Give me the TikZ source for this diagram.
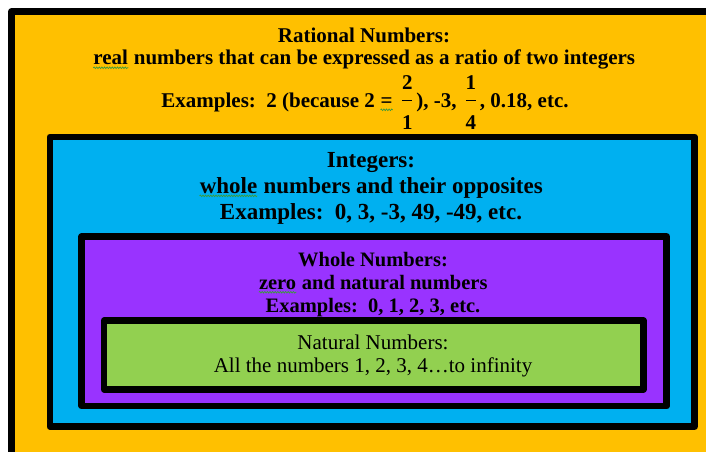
\documentclass[tikz,border=0pt]{standalone}
\usepackage{fontspec}
\setmainfont{Liberation Serif}
\usetikzlibrary{positioning,decorations.pathmorphing}
\definecolor{ratyellow}{HTML}{FFC000}
\definecolor{intblue}{HTML}{00B0F0}
\definecolor{wholepurple}{HTML}{9933FF}
\definecolor{natgreen}{HTML}{92D050}
\definecolor{squiggreen}{HTML}{3C9A3C}
\newcommand\squig[1]{\tikz[baseline=(sq.base)]{\node[inner sep=0pt,font=] (sq) {#1};
    \draw[squiggreen,line width=0.7pt,decorate,decoration={snake,segment length=2.6pt,amplitude=0.8pt}]
    ([yshift=-2.8pt]sq.base west) -- ([yshift=-2.8pt]sq.base east);}}
\newcommand\frc[2]{\makebox[18pt]{\makebox[0pt]{\raisebox{18pt}{#1}}\makebox[0pt]{\raisebox{6pt}{\rule{10pt}{1pt}}}\makebox[0pt]{\raisebox{-22pt}{#2}}}}
\tikzset{
    setbox/.style={rectangle,draw=black,line width=6.7pt,line join=round,inner sep=0pt},
    rattext/.style={font=\bfseries\fontsize{21}{22}\selectfont,align=center,inner sep=0pt},
    inttext/.style={font=\bfseries\fontsize{23}{26}\selectfont,align=center,inner sep=0pt},
    wholetext/.style={font=\bfseries\fontsize{20.5}{22.7}\selectfont,align=center,inner sep=0pt},
    nattext/.style={font=\fontsize{21}{23}\selectfont,align=center,inner sep=0pt}
}
\begin{document}
\begin{tikzpicture}[x=1pt,y=-1pt]
    \useasboundingbox (0,0) rectangle (706,451);
    \clip (0,0) rectangle (706,451);
    % nested sets, outermost first
    \node[setbox,fill=ratyellow,minimum width=700.5pt,minimum height=458.5pt] (rational) at (361.75,240.75) {};
    \node[setbox,fill=intblue,minimum width=644.5pt,minimum height=289.7pt] (integers) at (372.25,281.85) {};
    \node[setbox,fill=wholepurple,minimum width=585pt,minimum height=169.5pt] (whole) at (374.2,321.25) {};
    \node[setbox,fill=natgreen,minimum width=539.3pt,minimum height=68.6pt] (natural) at (373.65,355) {};
    % labels
    \node[rattext] (ratdef) at (364,49) {Rational Numbers:\\\squig{real} numbers that can be expressed as a ratio of two integers};
    \node[rattext,anchor=base] (ratex) at (365,107) {Examples:\ \ 2 (because 2 \squig{=} \frc{2}{1}), -3, \frc{1}{4}, 0.18, etc.};
    \node[inttext] (intdef) at (371,188) {Integers:\\\squig{whole} numbers and their opposites\\Examples:\ \ 0, 3, -3, 49, -49, etc.};
    \node[wholetext] (wholedef) at (373,284.5) {Whole Numbers:\\\squig{zero} and natural numbers\\Examples:\ \ 0, 1, 2, 3, etc.};
    \node[nattext] (natdef) at (373,355.5) {Natural Numbers:\\All the numbers 1, 2, 3, 4…to infinity};
\end{tikzpicture}
\end{document}
